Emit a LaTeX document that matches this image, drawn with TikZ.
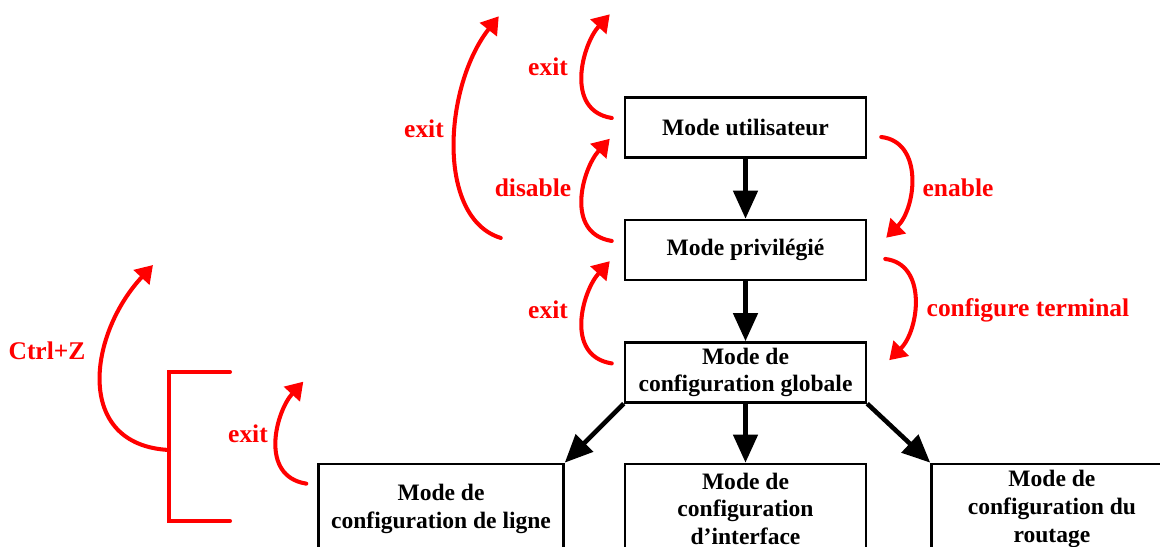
\documentclass[tikz,border=0pt]{standalone}
\usepackage{fontspec}
\setmainfont{Liberation Serif}
\usepackage{tikz}
\usetikzlibrary{positioning, arrows.meta}
\tikzstyle{mode} = [rectangle, draw=black, line width=1.4pt, minimum width=4.82cm, minimum height=1.2cm, inner sep=1pt, align=center, font=\fontsize{13.4}{15.8}\selectfont\bfseries]
\tikzstyle{submode} = [mode, minimum height=1.8cm]
\tikzstyle{cmd} = [text=red, font=\fontsize{14.5}{17}\selectfont\bfseries]
\tikzstyle{line} = [draw, line width=2.6pt, -{Triangle[length=0.56cm, width=0.48cm]}]
\tikzstyle{redline} = [draw=red, line width=2.3pt, line cap=round, -{Triangle[length=0.34cm, width=0.42cm]}]
\tikzstyle{bracket} = [draw=red, line width=2.3pt, line cap=round]

\begin{document}
\begin{tikzpicture}
  \useasboundingbox (0,0) rectangle (23.2,-10.94);
  \clip (0,0) rectangle (23.2,-10.94);
  %% nodes
  % main modes
  \node [mode] (util) at (14.91,-2.55) {Mode utilisateur};
  \node [mode, below=1.2cm of util] (priv) {Mode privilégié};
  \node [mode, below=1.2cm of priv] (global) {Mode de\\configuration globale};
  % sub modes
  \node [submode, below=1.18cm of global] (iface) {Mode de\\configuration\\d’interface};
  \node [submode, minimum width=4.9cm, left=1.18cm of iface] (ligne) {Mode de\\configuration de ligne};
  \node [submode, right=1.26cm of iface] (routage) {Mode de\\configuration du\\routage};
  % commands
  \node [cmd] (exit-util) at (10.96,-1.34) {exit};
  \node [cmd] (exit-priv) at (8.48,-2.58) {exit};
  \node [cmd] (disable) at (10.66,-3.76) {disable};
  \node [cmd] (exit-global) at (10.96,-6.20) {exit};
  \node [cmd] (enable) at (19.16,-3.76) {enable};
  \node [cmd] (conf-t) at (20.56,-6.20) {configure terminal};
  \node [cmd] (ctrl-z) at (0.94,-7.02) {Ctrl+Z};
  \node [cmd] (exit-sub) at (4.96,-8.68) {exit};
  % bracket
  \coordinate (brtop) at (4.6,-7.44);
  \coordinate (brmid) at (3.38,-9.0);
  \coordinate (brbot) at (4.6,-10.42);
  \coordinate (ctrl-z-end) at (3.06,-5.30);
  %% edges
  % down the modes
  \path [line] (util) -- (priv);
  \path [line] (priv) -- (global);
  \path [line] (global.south west) -- (ligne.north east);
  \path [line] (global) -- (iface);
  \path [line] (global.south east) -- (routage.north west);
  % back up on the left
  \path [redline] ([shift={(-0.24,0.19)}]util.west) .. controls +(-0.95,0.15) and +(-0.55,-0.6) .. ([shift={(-0.28,1.64)}]util.north west);
  \path [redline] ([shift={(-0.24,0.18)}]priv.west) .. controls +(-0.95,0.15) and +(-0.55,-0.6) .. ([shift={(-0.28,0.40)}]util.south west);
  \path [redline] ([shift={(-0.24,0.18)}]global.west) .. controls +(-0.95,0.15) and +(-0.55,-0.6) .. ([shift={(-0.28,0.40)}]priv.south west);
  \path [redline] ([shift={(-2.46,0.24)}]priv.west) .. controls +(-1.3,0.4) and +(-1.1,-1.4) .. ([shift={(-2.5,1.60)}]util.north west);
  % down on the right
  \path [redline] ([shift={(0.28,-0.19)}]util.east) .. controls +(0.85,-0.1) and +(0.6,0.6) .. ([shift={(0.38,-0.38)}]priv.north east);
  \path [redline] ([shift={(0.36,-0.18)}]priv.east) .. controls +(0.85,-0.1) and +(0.6,0.6) .. ([shift={(0.44,-0.38)}]global.north east);
  % sub modes
  \path [redline] ([shift={(-0.22,-0.42)}]ligne.north west) .. controls +(-0.95,0.15) and +(-0.55,-0.6) .. ([shift={(-0.28,1.62)}]ligne.north west);
  \path [bracket] (brtop) -| (brmid) |- (brbot);
  \path [redline] (brmid) .. controls +(-1.9,0.1) and +(-1.3,-1.4) .. (ctrl-z-end);
\end{tikzpicture}
\end{document}
